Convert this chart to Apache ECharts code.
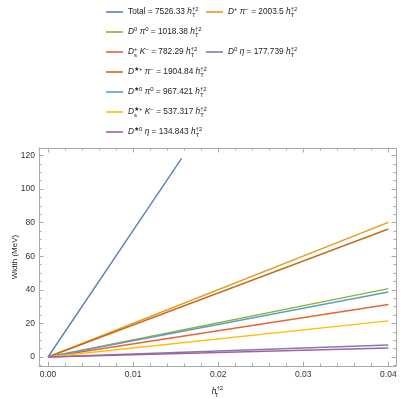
<!DOCTYPE html>
<html><head><meta charset="utf-8">
<script src="https://cdn.jsdelivr.net/npm/echarts@6/dist/echarts.min.js"></script>
<style>html,body{margin:0;padding:0;background:#fff}#c{width:407px;height:399px}</style>
</head><body><div id="c"></div>
<script>
// ---- data ----
const seriesNames = ['Total', 'D+pi-', 'D0pi0', 'Ds+K-', 'D0eta', 'D*+pi-', 'D*0pi0', 'Ds*+K-', 'D*0eta'];
const coefficients = ['7526.33', '2003.5', '1018.38', '782.29', '177.739', '1904.84', '967.421', '537.317', '134.843'];
const xStartValues = [0, 0, 0, 0, 0, 0, 0, 0, 0];
const yStartValues = [0, 0, 0, 0, 0, 0, 0, 0, 0];
const xEndValues = [0.0157, 0.04, 0.04, 0.04, 0.04, 0.04, 0.04, 0.04, 0.04];
const yEndValues = [118.2, 80.14, 40.74, 31.29, 7.11, 76.19, 38.70, 21.49, 5.39];
const xMajorTicks = [0, 0.01, 0.02, 0.03, 0.04];
const xTickLabels = ['0.00', '0.01', '0.02', '0.03', '0.04'];
const xMinorTicks = [0.002, 0.004, 0.006, 0.008, 0.012, 0.014, 0.016, 0.018, 0.022, 0.024, 0.026, 0.028, 0.032, 0.034, 0.036, 0.038];
const yMajorTicks = [0, 20, 40, 60, 80, 100, 120];
const yTickLabels = ['0', '20', '40', '60', '80', '100', '120'];
const yMinorTicks = [-5, 5, 10, 15, 25, 30, 35, 45, 50, 55, 65, 70, 75, 85, 90, 95, 105, 110, 115];
const colors = ['#5E81B5', '#E19C24', '#8FB032', '#EB6235', '#8778B3', '#C56E1A', '#5D9EC7', '#FFBF00', '#A5609D'];

// ---- legend rich-text labels ----
const H = '{i|h}{sb|T}{sp|\u20202}';
const particleLabels = [
  '{n|Total}',
  '{i|D}{sp|+}{n| }{i|\u03c0}{sp|\u2212}',
  '{i|D}{sp|0}{n| }{i|\u03c0}{sp|0}',
  '{i|D}{sb|s}{sp|+}{n| }{i|K}{sp|\u2212}',
  '{i|D}{sp|0}{n| }{i|\u03b7}',
  '{i|D}{sp|\u2605+}{n| }{i|\u03c0}{sp|\u2212}',
  '{i|D}{sp|\u26050}{n| }{i|\u03c0}{sp|0}',
  '{i|D}{sb|s}{sp|\u2605+}{n| }{i|K}{sp|\u2212}',
  '{i|D}{sp|\u26050}{n| }{i|\u03b7}'
];
const legendPos = [
  [106, 12], [206, 12], [106, 32], [106, 52], [206, 52], [106, 72], [106, 92], [106, 112], [106, 132]
];

const FONT = 'Liberation Sans, Arial, sans-serif';
const rich = {
  n: { fontSize: 8.3, fontFamily: FONT, color: '#222', lineHeight: 12 },
  i: { fontSize: 8.3, fontFamily: FONT, fontStyle: 'italic', color: '#222', lineHeight: 12 },
  sp: { fontSize: 6, fontFamily: FONT, color: '#222', lineHeight: 6, verticalAlign: 'top' },
  sb: { fontSize: 6, fontFamily: FONT, color: '#222', lineHeight: 6, verticalAlign: 'bottom', width: 0.01 }
};

const series = seriesNames.map((name, k) => ({
  name: name,
  type: 'line',
  data: [[xStartValues[k], yStartValues[k]], [xEndValues[k], yEndValues[k]]],
  showSymbol: false,
  symbol: 'none',
  color: colors[k],
  lineStyle: { width: 1.4, color: colors[k] },
  silent: true,
  animation: false,
  z: 2
}));

const legends = seriesNames.map((name, k) => ({
  data: [name],
  left: legendPos[k][0],
  top: legendPos[k][1] - 6,
  padding: 0,
  itemWidth: 17,
  itemHeight: 1.6,
  icon: 'rect',
  selectedMode: false,
  textStyle: { fontSize: 8.3, fontFamily: FONT, color: '#222', rich: rich },
  formatter: () => particleLabels[k] + '{n| = ' + coefficients[k] + ' }' + H
}));

const XMIN = -0.00106, XMAX = 0.0409, YMIN = -5.35, YMAX = 124.4;
const AX = '#a9a9a9';
const lblStyle = { fontSize: 8.5, fontFamily: FONT, color: '#333' };
function findLabel(vals, labels, v) {
  for (let i = 0; i < vals.length; i++) if (Math.abs(vals[i] - v) < 1e-9) return labels[i];
  return '';
}
function xAx(pos, major, withLabels) {
  return {
    type: 'value', position: pos, min: XMIN, max: XMAX, gridIndex: 0,
    axisLine: { show: major, onZero: false, lineStyle: { color: AX, width: 1 } },
    axisTick: { show: true, inside: true, length: major ? 4.5 : 2.5, lineStyle: { color: AX, width: 1 },
      customValues: major ? xMajorTicks : xMinorTicks },
    axisLabel: withLabels ? Object.assign({ show: true, margin: 4, customValues: xMajorTicks,
      formatter: v => findLabel(xMajorTicks, xTickLabels, v) }, lblStyle) : { show: false },
    splitLine: { show: false }
  };
}
function yAx(pos, major, withLabels) {
  return {
    type: 'value', position: pos, min: YMIN, max: YMAX, gridIndex: 0,
    axisLine: { show: major, onZero: false, lineStyle: { color: AX, width: 1 } },
    axisTick: { show: true, inside: true, length: major ? 4.5 : 2.5, lineStyle: { color: AX, width: 1 },
      customValues: major ? yMajorTicks : yMinorTicks },
    axisLabel: withLabels ? Object.assign({ show: true, margin: 4, customValues: yMajorTicks,
      formatter: v => findLabel(yMajorTicks, yTickLabels, v) }, lblStyle) : { show: false },
    splitLine: { show: false }
  };
}

const xAxes = [xAx('bottom', true, true), xAx('bottom', false, false), xAx('top', true, false), xAx('top', false, false)];
xAxes[0].name = '{i|h}{sb|T}{sp|\u20202}';
xAxes[0].nameLocation = 'middle';
xAxes[0].nameGap = 19;
xAxes[0].nameMoveOverlap = false;
xAxes[0].nameTextStyle = { fontSize: 8, fontFamily: FONT, color: '#222', rich: {
  i: { fontSize: 8.5, fontFamily: FONT, fontStyle: 'italic', color: '#222', lineHeight: 13 },
  sp: { fontSize: 6, fontFamily: FONT, color: '#222', lineHeight: 6, verticalAlign: 'top' },
  sb: { fontSize: 6, fontFamily: FONT, color: '#222', lineHeight: 6, verticalAlign: 'bottom', width: 0.01 }
} };
const yAxes = [yAx('left', true, true), yAx('left', false, false), yAx('right', true, false), yAx('right', false, false)];
yAxes[0].name = 'Width (MeV)';
yAxes[0].nameLocation = 'middle';
yAxes[0].nameGap = 20;
yAxes[0].nameMoveOverlap = false;
yAxes[0].nameTextStyle = { fontSize: 8, fontFamily: FONT, color: '#222' };

const chart = echarts.init(document.getElementById('c'), null, { renderer: 'canvas' });
chart.setOption({
  animation: false,
  backgroundColor: '#fff',
  grid: { left: 39, right: 11, top: 148, bottom: 33, containLabel: false, outerBoundsMode: 'none' },
  legend: legends,
  xAxis: xAxes,
  yAxis: yAxes,
  series: series
});
</script></body></html>
